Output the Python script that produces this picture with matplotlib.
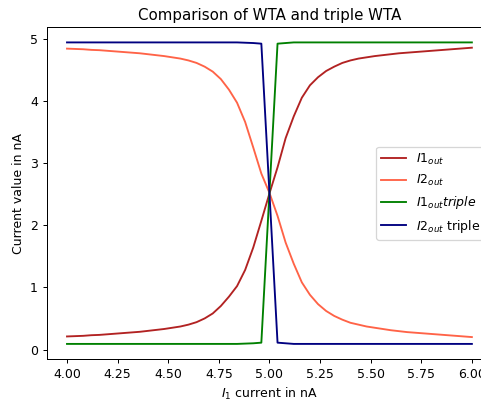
import matplotlib
matplotlib.use("Agg")
import matplotlib.pyplot as plt

# input current I1 in nA (sample grid)
i1 = [4.00, 4.04, 4.08, 4.12, 4.16, 4.20, 4.24, 4.28, 4.32, 4.36,
      4.40, 4.44, 4.48, 4.52, 4.56, 4.60, 4.64, 4.68, 4.72, 4.76,
      4.80, 4.84, 4.88, 4.92, 4.96, 5.00, 5.04, 5.08, 5.12, 5.16,
      5.20, 5.24, 5.28, 5.32, 5.36, 5.40, 5.44, 5.48, 5.52, 5.56,
      5.60, 5.64, 5.68, 5.72, 5.76, 5.80, 5.84, 5.88, 5.92, 5.96, 6.00]

# plain WTA
i1_out = [0.21, 0.215, 0.22, 0.23, 0.235, 0.245, 0.255, 0.265, 0.275, 0.285,
          0.30, 0.315, 0.33, 0.35, 0.37, 0.40, 0.44, 0.50, 0.58, 0.70,
          0.85, 1.02, 1.28, 1.64, 2.07, 2.51, 2.93, 3.40, 3.75, 4.05,
          4.25, 4.38, 4.48, 4.55, 4.61, 4.65, 4.68, 4.70, 4.72, 4.735,
          4.75, 4.765, 4.775, 4.785, 4.795, 4.805, 4.815, 4.825, 4.835, 4.845, 4.855]
i2_out = [4.84, 4.835, 4.83, 4.82, 4.815, 4.805, 4.795, 4.785, 4.775, 4.765,
          4.75, 4.735, 4.72, 4.70, 4.68, 4.65, 4.61, 4.55, 4.47, 4.35,
          4.18, 3.97, 3.66, 3.25, 2.83, 2.52, 2.15, 1.72, 1.38, 1.08,
          0.88, 0.73, 0.62, 0.54, 0.48, 0.43, 0.40, 0.37, 0.35, 0.33,
          0.31, 0.295, 0.28, 0.27, 0.26, 0.25, 0.24, 0.23, 0.22, 0.21, 0.20]

# triple WTA
i1_triple = [0.09] * 22 + [0.095, 0.10, 0.11, 2.52, 4.92, 4.93] + [4.94] * 23
i2_triple = [4.94] * 22 + [4.935, 4.93, 4.92, 2.52, 0.11, 0.10] + [0.09] * 23

fig = plt.figure(figsize=(482 / 90, 402 / 90), dpi=90)
ax = fig.add_axes([0.097, 0.107, 0.924, 0.825])

ax.plot(i1, i1_out, color='firebrick', label=r'$I1_{out}$')
ax.plot(i1, i2_out, color='tomato', label=r'$I2_{out}$')
ax.plot(i1, i1_triple, color='green', label=r'$I1_{out} triple$')
ax.plot(i1, i2_triple, color='navy', label=r'$I2_{out}$ triple')

ax.set_title('Comparison of WTA and triple WTA')
ax.set_xlabel(r'$I_1$ current in nA')
ax.set_ylabel('Current value in nA')
ax.legend(loc='center right')

plt.savefig('out.png', dpi=90)
